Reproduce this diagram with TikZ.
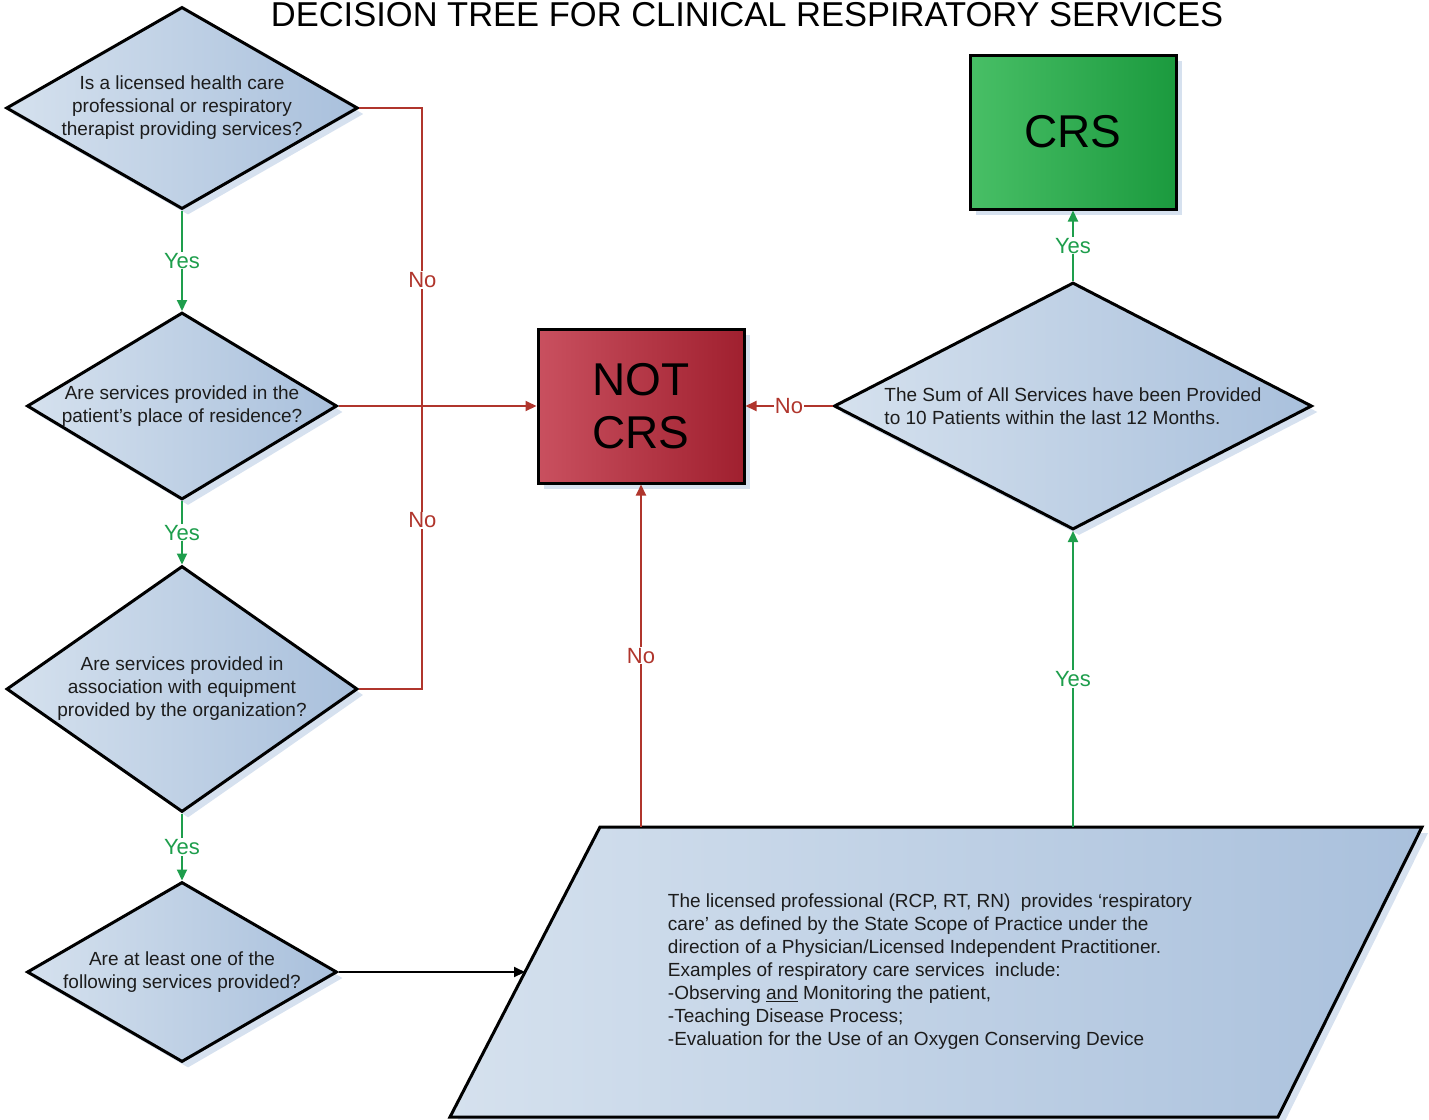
\documentclass[tikz,border=0pt]{standalone}
\usepackage{fontspec}
\setmainfont{Liberation Sans}
\usetikzlibrary{shapes.geometric,arrows.meta,shadows}
\definecolor{redln}{HTML}{B0352C}
\definecolor{grnln}{HTML}{1E9E4C}
\definecolor{dlight}{HTML}{D5E1EE}
\definecolor{ddark}{HTML}{A9C0DC}
\definecolor{redlight}{HTML}{C9505F}
\definecolor{reddark}{HTML}{A0202F}
\definecolor{grnlight}{HTML}{48BF66}
\definecolor{grndark}{HTML}{1B9A3E}
\definecolor{txt}{HTML}{1C1C1C}
\definecolor{shad}{HTML}{B4C8E2}
\begin{document}
\begin{tikzpicture}[x=1pt,y=-1pt,
  shadowed/.style={drop shadow={shadow xshift=6pt,shadow yshift=-6pt,fill=shad,opacity=0.55}},
  dec/.style={diamond,draw=black,line width=3pt,left color=dlight,right color=ddark,
    align=center,text=txt,font=\fontsize{19}{23}\selectfont,inner sep=0pt,shadowed},
  endbox/.style={rectangle,draw=black,line width=3pt,minimum width=206pt,minimum height=154pt,
    align=center,font=\fontsize{46}{53}\selectfont,text=black,shadowed},
  rline/.style={draw=redln,line width=2pt},
  gline/.style={draw=grnln,line width=2pt},
  bline/.style={draw=black,line width=2pt},
  arr/.style={-{Triangle[length=11pt,width=10pt]}},
  ylab/.style={fill=white,text=grnln,font=\fontsize{22}{24}\selectfont,inner sep=1pt},
  nlab/.style={fill=white,text=redln,font=\fontsize{22}{24}\selectfont,inner sep=1pt}
]
\useasboundingbox (0,0) rectangle (1429,1119);

\node[font=\fontsize{34.5}{40}\selectfont,anchor=base,text=black] (title) at (747,26.5)
  {DECISION TREE FOR CLINICAL RESPIRATORY SERVICES};

\node[dec,aspect=1.74,minimum width=345pt,minimum height=198pt] (d1) at (182,108)
  {Is a licensed health care\\professional or respiratory\\therapist providing services?};
\node[dec,aspect=1.66,minimum width=310pt,minimum height=187pt] (d2) at (182,406)
  {Are services provided in the\\patient's place of residence?};
\node[dec,aspect=1.43,minimum width=351pt,minimum height=246pt] (d3) at (182,689)
  {Are services provided in\\association with equipment\\provided by the organization?};
\node[dec,aspect=1.72,minimum width=310pt,minimum height=180pt] (d4) at (182,972)
  {Are at least one of the\\following services provided?};
\node[dec,aspect=1.94,minimum width=478pt,minimum height=247pt,align=left] (d5) at (1073,406)
  {The Sum of All Services have been Provided\\to 10 Patients within the last 12 Months.};

\node[endbox,left color=redlight,right color=reddark] (notcrs) at (641,406) {NOT\\CRS};
\node[endbox,left color=grnlight,right color=grndark] (crs) at (1073,132) {CRS};

% data (parallelogram) shape
\path[draw=black,line width=3pt,left color=dlight,right color=ddark,shadowed]
  (600,827) -- (1422,827) -- (1278,1117) -- (450,1117) -- cycle;
\coordinate (ptop) at (936,827);
\coordinate (pleft) at (525,972);
\node[align=left,text=txt,font=\fontsize{19}{23}\selectfont,inner sep=0pt] (para) at (930,972)
  {The licensed professional (RCP, RT, RN)~ provides ‘respiratory\\
   care’ as defined by the State Scope of Practice under the\\
   direction of a Physician/Licensed Independent Practitioner.\\
   Examples of respiratory care services~ include:\\
   -Observing \underline{and} Monitoring the patient,\\
   -Teaching Disease Process;\\
   -Evaluation for the Use of an Oxygen Conserving Device};

% green yes connectors
\draw[gline,arr] (d1.south) -- node[ylab] (y1) {Yes} (d2.north);
\draw[gline,arr] (d2.south) -- node[ylab] (y2) {Yes} (d3.north);
\draw[gline,arr] (d3.south) -- node[ylab] (y3) {Yes} (d4.north);
\draw[gline,arr] (d5.north) -- node[ylab] (y4) {Yes} (crs.south);
\draw[gline,arr] (ptop -| d5.south) -- node[ylab] (y5) {Yes} (d5.south);

% red no connectors
\draw[rline] (d1.east) -- ++(63,0) |- node[nlab,pos=0.148] (n1) {No} node[nlab,pos=0.355] (n2) {No} (d3.east);
\draw[rline,arr] (d2.east) -- (notcrs.west);
\draw[rline,arr] (ptop -| notcrs.south) -- node[nlab] (n3) {No} (notcrs.south);
\draw[rline,arr] (d5.west) -- node[nlab] (n4) {No} (notcrs.east);

% black connector
\draw[bline,arr] (d4.east) -- (pleft);
\end{tikzpicture}
\end{document}
